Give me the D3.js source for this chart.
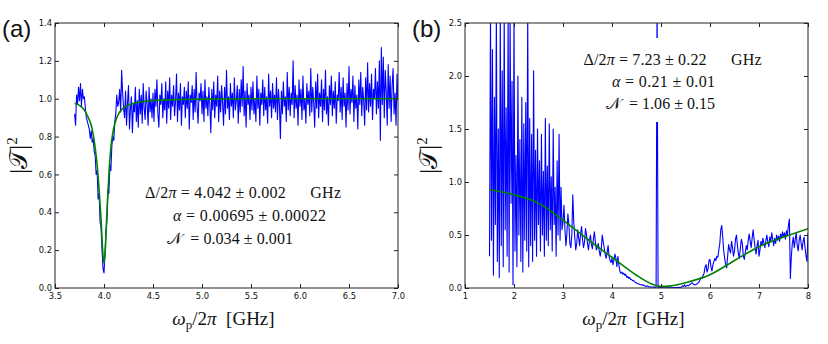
<!DOCTYPE html>
<html><head><meta charset="utf-8">
<script src="https://cdn.jsdelivr.net/npm/d3@7"></script>
<style>body{margin:0;background:#fff}</style>
</head><body><svg id="c" width="828" height="344" xmlns="http://www.w3.org/2000/svg"></svg>
<script>
// ---------- Panel (a) data ----------
const aXStart = 3.70, aXStep = 0.01;
const aData = [
 0.92,0.86,1.02,0.97,1.06,0.99,1.08,0.96,1.05,1.00,
 1.01,0.95,0.90,0.88,0.86,0.84,0.79,0.83,0.77,0.79,
 0.72,0.70,0.60,0.62,0.47,0.50,0.35,0.32,0.20,0.10,
 0.08,0.18,0.30,0.36,0.52,0.50,0.65,0.62,0.75,0.80,
 0.78,0.88,0.92,1.02,0.96,0.98,1.05,0.93,1.15,1.03,
 0.95,0.90,1.04,0.86,0.98,1.07,0.84,0.95,1.01,0.82,
 0.97,0.93,1.06,0.88,0.99,0.85,1.05,0.92,1.02,0.87,
 1.08,0.95,0.89,1.04,0.97,0.86,1.06,0.93,1.00,0.90,
 1.03,0.88,1.05,0.96,1.10,0.92,0.85,1.02,0.97,1.08,
 0.90,1.00,0.94,1.09,0.87,1.04,0.95,1.11,0.89,1.02,
 0.96,1.07,0.91,0.99,1.13,0.88,1.03,0.94,1.08,0.86,
 1.01,0.97,1.06,0.90,1.04,0.95,1.09,0.84,1.02,0.98,
 1.07,0.89,1.05,0.93,1.14,0.96,0.87,1.03,0.99,1.08,
 0.92,1.04,0.88,1.10,0.95,1.01,0.91,1.06,0.97,0.82,
 1.05,0.94,1.09,0.90,1.02,0.96,1.12,0.88,1.04,0.93,
 1.07,0.98,0.86,1.06,0.92,1.15,0.95,1.01,0.89,1.08,
 0.96,1.03,0.90,1.11,0.94,0.99,1.07,0.87,1.05,0.93,
 1.10,0.96,1.17,0.91,1.04,0.85,1.08,0.97,1.02,0.89,
 1.06,0.94,1.09,0.92,1.00,0.88,1.12,0.95,1.05,0.86,
 1.03,0.97,1.10,0.91,1.06,0.94,1.01,0.87,1.13,0.96,
 1.04,0.90,1.08,0.95,1.02,0.93,1.11,0.89,1.05,0.97,
 0.79,1.04,0.92,1.09,0.96,1.01,0.88,1.14,0.94,1.06,
 0.91,1.03,0.97,1.20,0.90,1.07,0.95,1.02,0.86,1.10,
 0.96,1.05,0.89,1.12,0.94,1.00,0.87,1.08,0.97,1.04,
 0.91,1.16,0.93,1.06,0.98,0.85,1.09,0.95,1.13,0.90,
 1.03,0.96,1.10,0.88,1.05,0.94,1.15,0.92,1.01,0.86,
 1.07,0.97,1.12,0.91,1.04,0.95,1.09,0.87,1.02,0.99,
 1.14,0.93,1.06,0.89,1.11,0.96,1.03,0.85,1.08,0.94,
 1.17,0.92,1.05,0.98,1.12,0.88,1.07,0.95,1.02,0.84,
 1.10,0.97,1.14,0.91,1.06,0.99,0.86,1.11,0.94,1.19,
 0.93,1.08,0.96,1.13,0.89,1.05,1.00,1.16,0.92,1.09,
 0.95,1.20,0.78,1.27,0.97,1.22,0.90,1.15,1.04,0.86,
 1.18,0.95,1.12,0.88,1.07,1.16,0.92,1.03,0.86,1.13,
 0.99
];
const aFitX = [3.70,3.75,3.80,3.84,3.87,3.89,3.91,3.93,3.95,3.97,3.985,4.00,4.015,4.03,4.05,4.07,4.09,4.12,4.16,4.20,4.30,4.45,4.70,5.00,5.50,7.00];
const aFitY = [0.975,0.965,0.94,0.90,0.86,0.81,0.74,0.65,0.52,0.36,0.21,0.13,0.22,0.40,0.60,0.74,0.82,0.885,0.93,0.952,0.975,0.988,0.995,0.998,1.0,1.0];
const aXTicks = [3.5,4.0,4.5,5.0,5.5,6.0,6.5,7.0];
const aYTicks = [0.0,0.2,0.4,0.6,0.8,1.0,1.2,1.4];

// ---------- Panel (b) data ----------
const bXStart = 1.50, bXStep = 0.02;
const bData = [
 0.30,2.60,0.45,2.25,0.12,1.80,0.60,2.60,0.25,1.50,
 0.10,2.60,0.40,2.05,0.20,2.60,0.55,1.70,0.30,2.60,
 0.15,2.60,0.80,1.95,0.03,2.60,0.35,1.25,0.20,2.00,
 0.50,1.40,0.25,1.80,0.15,1.55,0.45,1.75,0.35,2.60,
 0.20,1.60,0.40,1.45,0.25,2.05,0.45,1.30,0.30,1.50,
 0.60,1.20,0.35,1.45,0.50,1.10,0.30,1.60,0.45,1.15,
 0.40,1.55,0.55,1.05,0.35,1.50,0.60,0.95,0.30,1.20,
 0.50,1.45,0.45,0.95,0.55,0.62,0.78,0.55,0.40,0.52,
 0.70,0.60,0.42,0.38,0.50,0.88,0.62,0.48,0.36,0.42,
 0.55,0.47,0.40,0.52,0.58,0.45,0.38,0.44,0.56,0.50,
 0.42,0.36,0.45,0.50,0.41,0.37,0.46,0.53,0.44,0.36,
 0.38,0.42,0.35,0.30,0.36,0.50,0.44,0.38,0.32,0.28,
 0.33,0.40,0.30,0.26,0.24,0.28,0.22,0.27,0.32,0.28,
 0.20,0.30,0.22,0.16,0.14,0.15,0.13,0.14,0.12,0.13,
 0.10,0.11,0.09,0.10,0.08,0.08,0.07,0.07,0.06,0.05,
 0.05,0.04,0.04,0.035,0.03,0.03,0.025,0.03,0.02,0.02,
 0.015,0.02,0.015,0.01,0.012,0.01,0.01,0.008,0.01,0.006,
 0.005,2.80,0.005,0.004,0.003,0.003,0.002,0.002,0.002,0.003,
 0.003,0.002,0.002,0.003,0.002,0.003,0.004,0.003,0.004,0.005,
 0.004,0.005,0.006,0.005,0.007,0.006,0.01,0.02,0.015,0.03,
 0.015,0.02,0.025,0.02,0.03,0.035,0.045,0.05,0.035,0.03,
 0.03,0.035,0.04,0.05,0.06,0.08,0.10,0.09,0.12,0.14,
 0.20,0.22,0.15,0.18,0.26,0.27,0.20,0.16,0.22,0.25,
 0.28,0.26,0.30,0.29,0.36,0.42,0.55,0.59,0.48,0.35,
 0.28,0.22,0.19,0.30,0.41,0.36,0.33,0.44,0.38,0.30,
 0.35,0.46,0.50,0.40,0.32,0.28,0.38,0.46,0.42,0.30,
 0.27,0.33,0.40,0.36,0.45,0.51,0.44,0.38,0.47,0.55,
 0.46,0.38,0.32,0.40,0.45,0.30,0.36,0.44,0.40,0.47,
 0.42,0.38,0.45,0.50,0.43,0.39,0.48,0.44,0.52,0.46,
 0.40,0.47,0.42,0.50,0.45,0.49,0.44,0.51,0.47,0.53,
 0.48,0.52,0.46,0.54,0.50,0.59,0.65,0.09,0.30,0.42,
 0.48,0.38,0.46,0.52,0.40,0.35,0.45,0.50,0.42,0.36,
 0.44,0.48,0.38,0.30,0.25,0.52
];
const bFitX = [1.5,2.0,2.5,3.0,3.5,4.0,4.5,4.8,5.0,5.2,5.5,6.0,6.5,7.0,7.5,8.0];
const bFitY = [0.93,0.88,0.80,0.64,0.46,0.29,0.12,0.04,0.015,0.02,0.05,0.125,0.26,0.39,0.48,0.56];
const bXTicks = [1,2,3,4,5,6,7,8];
const bYTicks = [0.0,0.5,1.0,1.5,2.0,2.5];

// ---------- Text ----------
const aNotes = [
  [["Δ/2",""],["π","i"],[" = 4.042 ± 0.002",""],["\u2003\u2002GHz",""]],
  [["α","i"],[" = 0.00695 ± 0.00022",""]],
  [["𝒩",""],["  = 0.034 ± 0.001",""]]
];
const bNotes = [
  [["Δ/2",""],["π","i"],[" = 7.23 ± 0.22",""],["\u2003\u2002GHz",""]],
  [["α","i"],[" = 0.21 ± 0.01",""]],
  [["𝒩",""],["  = 1.06 ± 0.15",""]]
];

const svg = d3.select("#c");
const SERIF = "'Liberation Serif','DejaVu Serif',serif";
const SANS = "'DejaVu Sans',sans-serif";

function addRich(sel, segs){
  segs.forEach(s=>{
    const t = sel.append("tspan").text(s[0]);
    if (s[1]==="i") t.attr("font-style","italic");
  });
}

function panel(cfg){
  const x = d3.scaleLinear().domain(cfg.xDomain).range([cfg.x0,cfg.x1]);
  const y = d3.scaleLinear().domain(cfg.yDomain).range([cfg.y1,cfg.y0]);
  const g = svg.append("g");
  const cid = "clip"+cfg.name;
  g.append("clipPath").attr("id",cid).append("rect")
    .attr("x",cfg.x0).attr("y",cfg.y0).attr("width",cfg.x1-cfg.x0).attr("height",cfg.y1-cfg.y0);
  const pts = cfg.data.map((v,i)=>[cfg.xStart+i*cfg.xStep, v]);
  const line = d3.line().x(d=>x(d[0])).y(d=>y(d[1]));
  g.append("path").datum(pts).attr("clip-path",`url(#${cid})`)
    .attr("d",line).attr("fill","none").attr("stroke","#0000ff")
    .attr("stroke-width",1.1).attr("stroke-linejoin","round");
  const fit = cfg.fitX.map((v,i)=>[v,cfg.fitY[i]]);
  g.append("path").datum(fit).attr("clip-path",`url(#${cid})`)
    .attr("d",line.curve(d3.curveMonotoneX)).attr("fill","none")
    .attr("stroke","#008000").attr("stroke-width",1.6);

  // notes
  if (cfg.box){
    g.append("rect").attr("x",cfg.box[0]).attr("y",cfg.box[1]).attr("width",cfg.box[2]).attr("height",cfg.box[3]).attr("fill","#fff");
  }
  cfg.notes.forEach((segs,i)=>{
    const p = cfg.notePos[i];
    const t = g.append("text").attr("x",p[0]).attr("y",p[1])
      .attr("font-family",SERIF).attr("font-size",cfg.noteSize)
      .attr("text-anchor",p[3]||"start").attr("fill","#111")
      .style("white-space","pre");
    addRich(t,segs);
    t.attr("textLength",p[2]).attr("lengthAdjust","spacing");
  });

  // axes
  const ax = [
    [d3.axisBottom(x).tickValues(cfg.xTicks).tickFormat(cfg.xFmt).tickPadding(5), `translate(0,${cfg.y1})`],
    [d3.axisTop(x).tickValues(cfg.xTicks).tickFormat(""), `translate(0,${cfg.y0})`],
    [d3.axisLeft(y).tickValues(cfg.yTicks).tickFormat(d3.format(".1f")).tickPadding(3), `translate(${cfg.x0},0)`],
    [d3.axisRight(y).tickValues(cfg.yTicks).tickFormat(""), `translate(${cfg.x1},0)`]
  ];
  ax.forEach(([a,tr])=>{
    a.tickSizeInner(-4).tickSizeOuter(0);
    const ag = g.append("g").attr("transform",tr).call(a);
    ag.select(".domain").remove();
    ag.selectAll(".tick line").attr("stroke","#222");
    ag.selectAll("text").attr("font-family",SANS).attr("font-size",8.4).attr("fill","#111");
  });
  g.append("rect").attr("x",cfg.x0).attr("y",cfg.y0).attr("width",cfg.x1-cfg.x0).attr("height",cfg.y1-cfg.y0)
    .attr("fill","none").attr("stroke","#222").attr("stroke-width",1);

  // x label
  const cx = (cfg.x0+cfg.x1)/2;
  const xl = g.append("text").attr("x",cx-3).attr("y",325).attr("text-anchor","middle")
    .attr("font-family",SERIF).attr("font-size",19).attr("fill","#111").style("white-space","pre");
  xl.append("tspan").attr("font-style","italic").text("ω");
  xl.append("tspan").attr("font-size",13).attr("dy",4).text("p");
  xl.append("tspan").attr("dy",-4).text("/2");
  xl.append("tspan").attr("font-style","italic").text("π");
  xl.append("tspan").text("  [GHz]");

  // y label
  const yl = g.append("text").attr("transform",`translate(${cfg.x0-28},${(cfg.y0+cfg.y1)/2}) rotate(-90)`)
    .attr("text-anchor","middle").attr("font-family",SERIF).attr("font-size",25).attr("fill","#111");
  yl.append("tspan").text("|");
  yl.append("tspan").text("𝒯");
  yl.append("tspan").text("|");
  yl.append("tspan").attr("font-size",15).attr("dy",-10).text("2");

  // panel letter
  svg.append("text").attr("x",cfg.letterX).attr("y",37).attr("font-family","'Liberation Sans',Arial,sans-serif")
    .attr("font-size",24).attr("fill","#111").text(cfg.letter);
}

panel({name:"a", x0:55, x1:398, y0:23, y1:288, xDomain:[3.5,7.0], yDomain:[0,1.4],
  xTicks:aXTicks, yTicks:aYTicks, xFmt:d3.format(".1f"),
  data:aData, xStart:aXStart, xStep:aXStep, fitX:aFitX, fitY:aFitY,
  notes:aNotes, noteSize:16,
  notePos:[[145,198,196],[173,221,153],[167,244,126]],
  letter:"(a)", letterX:2});

panel({name:"b", x0:465, x1:808, y0:23, y1:288, xDomain:[1,8], yDomain:[0,2.5],
  xTicks:bXTicks, yTicks:bYTicks, xFmt:d3.format("d"),
  data:bData, xStart:bXStart, xStep:bXStep, fitX:bFitX, fitY:bFitY,
  notes:bNotes, noteSize:16, box:[576,38,196,84],
  notePos:[[583.5,64.5,178],[715,86.5,103,"end"],[715,109,109,"end"]],
  letter:"(b)", letterX:412});
</script></body></html>
